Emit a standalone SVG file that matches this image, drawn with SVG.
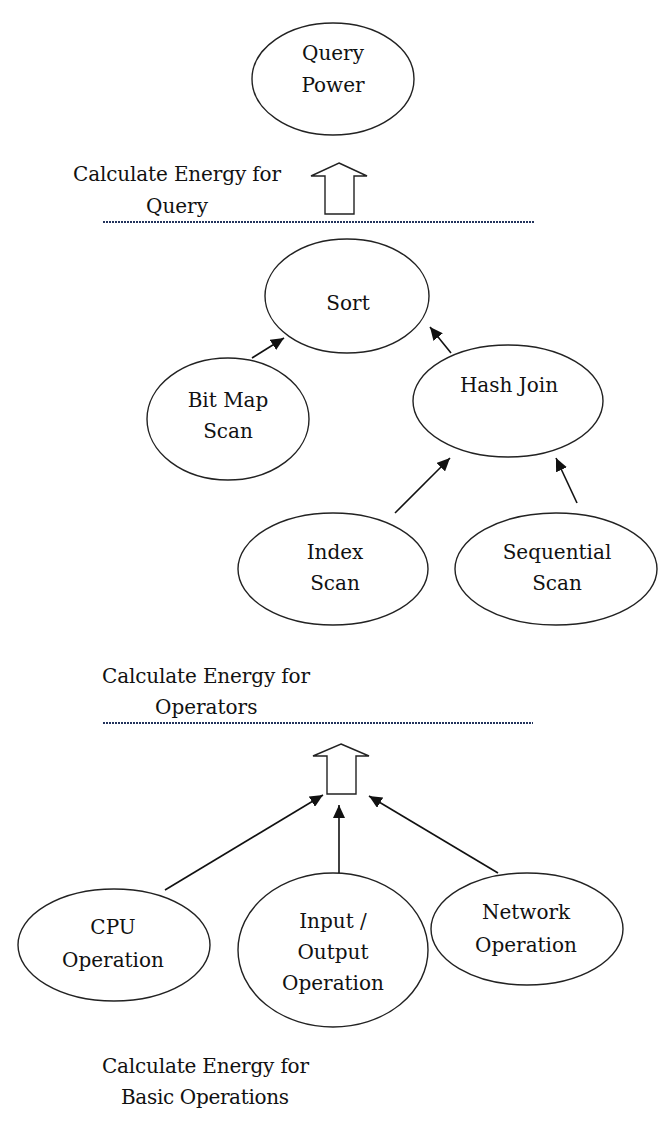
<svg xmlns="http://www.w3.org/2000/svg" width="666" height="1138" viewBox="0 0 666 1138">
<style>
.n{fill:#fff;stroke:#222;stroke-width:1.4}
.t{font-family:"DejaVu Serif","Liberation Serif",serif;font-size:20px;fill:#111;text-anchor:middle}
.s{font-family:"DejaVu Serif","Liberation Serif",serif;font-size:20px;fill:#111}
.c{stroke:#111;stroke-width:1.6;fill:none;marker-end:url(#ah)}
.h{fill:#fff;stroke:#222;stroke-width:1.4}
.d{stroke:#23345c;stroke-width:2;stroke-dasharray:2 1;fill:none}
</style>
<defs>
<marker id="ah" markerUnits="userSpaceOnUse" markerWidth="14" markerHeight="12" refX="13" refY="6" orient="auto">
<path d="M0,0 L13,6 L0,12 z" fill="#111"/>
</marker>
</defs>
<rect width="666" height="1138" fill="#fff"/>
<g id="labels">
<text class="s" x="73" y="181" textLength="208">Calculate Energy for</text>
<text class="s" x="146" y="213">Query</text>
<line class="d" x1="103" y1="222" x2="535" y2="222"/>
<text class="s" x="102" y="683" textLength="208">Calculate Energy for</text>
<text class="s" x="155" y="714">Operators</text>
<line class="d" x1="103" y1="723" x2="533" y2="723"/>
<text class="s" x="102" y="1073" textLength="207">Calculate Energy for</text>
<text class="s" x="121" y="1104" textLength="168">Basic Operations</text>
</g>
<g id="arrow-query">
<polygon class="h" points="339,163 367,176 354,176 354,214 325,214 325,176 311,176"/>
</g>
<g id="arrow-operators">
<polygon class="h" points="341,744 369,756 356,756 356,794 327,794 327,756 313,756"/>
</g>
<g id="query-power">
<ellipse class="n" cx="333" cy="79" rx="81" ry="56"/>
<text class="t" x="333" y="60">Query</text>
<text class="t" x="333" y="92">Power</text>
</g>
<g id="sort">
<ellipse class="n" cx="347" cy="296" rx="82" ry="57"/>
<text class="t" x="348" y="310">Sort</text>
</g>
<g id="bitmap-scan">
<ellipse class="n" cx="228" cy="419" rx="81" ry="61"/>
<text class="t" x="228" y="407">Bit Map</text>
<text class="t" x="228" y="438">Scan</text>
</g>
<g id="hash-join">
<ellipse class="n" cx="508" cy="401" rx="95" ry="56"/>
<text class="t" x="509" y="392">Hash Join</text>
</g>
<g id="index-scan">
<ellipse class="n" cx="333" cy="569" rx="95" ry="56"/>
<text class="t" x="335" y="559">Index</text>
<text class="t" x="335" y="590">Scan</text>
</g>
<g id="sequential-scan">
<ellipse class="n" cx="556" cy="569" rx="101" ry="56"/>
<text class="t" x="557" y="559">Sequential</text>
<text class="t" x="557" y="590">Scan</text>
</g>
<g id="cpu-operation">
<ellipse class="n" cx="114" cy="945" rx="96" ry="56"/>
<text class="t" x="113" y="934">CPU</text>
<text class="t" x="113" y="967">Operation</text>
</g>
<g id="io-operation">
<ellipse class="n" cx="333" cy="950" rx="95" ry="77"/>
<text class="t" x="333" y="928">Input /</text>
<text class="t" x="333" y="959">Output</text>
<text class="t" x="333" y="990">Operation</text>
</g>
<g id="network-operation">
<ellipse class="n" cx="527" cy="929" rx="96" ry="56"/>
<text class="t" x="526" y="919">Network</text>
<text class="t" x="526" y="952">Operation</text>
</g>
<g id="connectors">
<line class="c" x1="252" y1="358" x2="284" y2="338"/>
<line class="c" x1="451" y1="353" x2="430" y2="327"/>
<line class="c" x1="395" y1="513" x2="450" y2="458"/>
<line class="c" x1="577" y1="503" x2="556" y2="458"/>
<line class="c" x1="165" y1="890" x2="323" y2="795"/>
<line class="c" x1="339" y1="873" x2="339" y2="805"/>
<line class="c" x1="498" y1="873" x2="369" y2="796"/>
</g>
</svg>
